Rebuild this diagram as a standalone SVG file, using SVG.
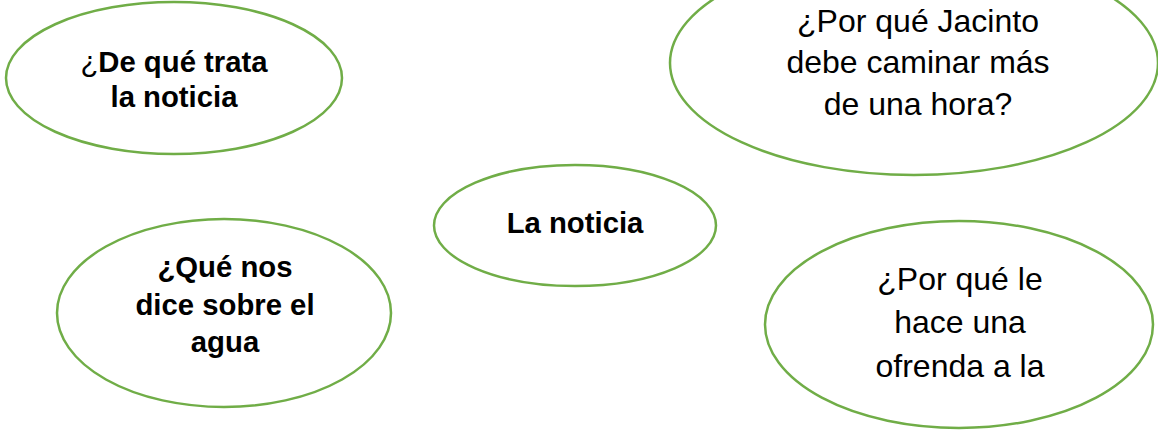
<svg xmlns="http://www.w3.org/2000/svg" width="1158" height="430" viewBox="0 0 1158 430">
<style>
.n{fill:#FFFFFF;stroke:#70AD47;stroke-width:2.5}
.b{font-family:"Liberation Sans",Arial,sans-serif;font-weight:bold;font-size:29.3px;fill:#000;text-anchor:middle}
.r{font-family:"Liberation Sans",Arial,sans-serif;font-size:32px;fill:#000;text-anchor:middle}
</style>
<rect width="1158" height="430" fill="#FFFFFF"/>
<g id="connectors"></g>
<g id="node-de-que-trata">
<ellipse class="n" cx="174" cy="78" rx="168" ry="76"/>
<text class="b" x="174" y="72"><tspan font-weight="normal">¿</tspan>De qué trata</text>
<text class="b" x="174" y="107">la noticia</text>
</g>
<g id="node-jacinto">
<ellipse class="n" cx="914" cy="63" rx="244" ry="112"/>
<text class="r" x="918" y="32">¿Por qué Jacinto</text>
<text class="r" x="918" y="73">debe caminar más</text>
<text class="r" x="918" y="115">de una hora?</text>
</g>
<g id="node-la-noticia">
<ellipse class="n" cx="575" cy="225.5" rx="141" ry="60.5"/>
<text class="b" x="575" y="233">La noticia</text>
</g>
<g id="node-agua">
<ellipse class="n" cx="224" cy="313" rx="167" ry="94"/>
<text class="b" x="225" y="277">¿Qué nos</text>
<text class="b" x="225" y="315">dice sobre el</text>
<text class="b" x="225" y="352">agua</text>
</g>
<g id="node-ofrenda">
<ellipse class="n" cx="959" cy="324.5" rx="194" ry="103.5"/>
<text class="r" x="960" y="290">¿Por qué le</text>
<text class="r" x="960" y="333">hace una</text>
<text class="r" x="960" y="377">ofrenda a la</text>
</g>
</svg>
